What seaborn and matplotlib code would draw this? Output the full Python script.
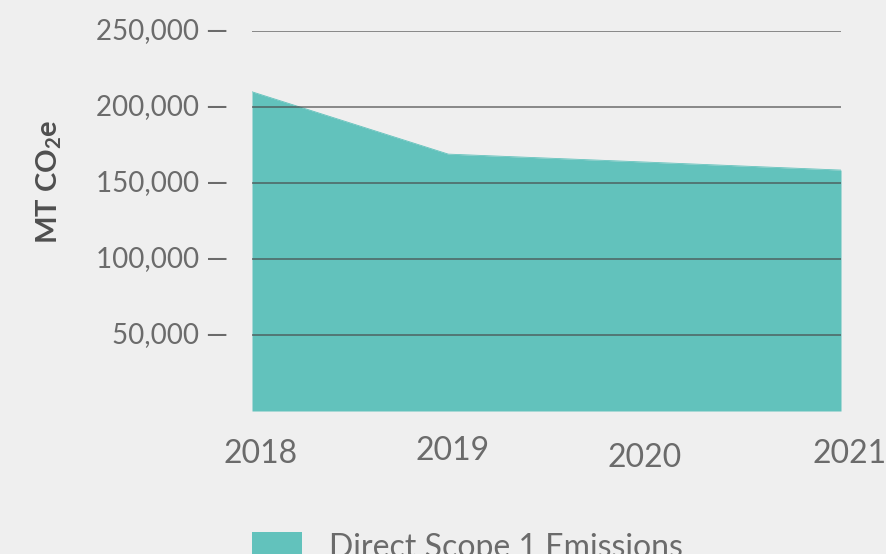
import matplotlib
matplotlib.use("Agg")
import matplotlib.pyplot as plt
import matplotlib.transforms as mtransforms
import seaborn as sns
import pandas as pd

# Data
years = [2018, 2019, 2020, 2021]
emissions = [210000, 169000, 163800, 158500]
y_ticks = [50000, 100000, 150000, 200000, 250000]
series_name = "Direct Scope 1 Emissions"

df = pd.DataFrame({"Year": years, "MT CO2e": emissions})

TEAL = "#62c2bc"
BG = "#efefef"
TICK_GREY = "#6b6b6b"
LABEL_GREY = "#4f4f4f"

sns.set_theme(style="white")
plt.rcParams["font.family"] = ["Lato", "DejaVu Sans"]
plt.rcParams["mathtext.fontset"] = "custom"
plt.rcParams["mathtext.rm"] = "Lato"
plt.rcParams["mathtext.bf"] = "Lato:bold"

fig = plt.figure(figsize=(8.87, 5.54), dpi=100, facecolor=BG)
ax = fig.add_axes([252 / 887, 1 - 411 / 554, (841 - 252) / 887, (411 - 31) / 554])
ax.set_facecolor(BG)

# Area
sns.lineplot(df, x="Year", y="MT CO2e", color=TEAL, linewidth=0.6, ax=ax, legend=False, zorder=2)
ax.fill_between(df["Year"], 0, df["MT CO2e"], color=TEAL, lw=0, label=series_name, zorder=1)

# Gridlines sit on top of the area
for yt in y_ticks:
    ax.axhline(yt, color="#484848", alpha=0.72, lw=1.2, zorder=3)

ax.set_xlim(years[0], years[-1])
ax.set_ylim(0, 250000)
ax.set_yticks(y_ticks)
ax.set_yticklabels([f"{v:,} \u2014" for v in y_ticks], color=TICK_GREY, fontsize=20)
ax.tick_params(axis="y", length=0, pad=17)
for lbl in ax.get_yticklabels():
    lbl.set_transform(lbl.get_transform() + mtransforms.ScaledTranslation(0, 1.5 / 72, fig.dpi_scale_trans))
ax.set_xticks([])
ax.set_xlabel(None)
ax.set_ylabel(None)
sns.despine(ax=ax, left=True, bottom=True)

# Year labels (slightly uneven, as in the original)
nudges = [(6, 0), (3, 2), (0, -3), (6, 0)]
xlab_trans = mtransforms.blended_transform_factory(ax.transData, ax.transAxes)
for yr, (dx, dy) in zip(years, nudges):
    t = mtransforms.offset_copy(xlab_trans, fig=fig, x=dx, y=dy, units="points")
    ax.text(yr, -0.113, str(yr), transform=t, ha="center", va="center",
            color=TICK_GREY, fontsize=23)

fig.text(49 / 887, 1 - 182 / 554, r"MT CO$_\mathbf{2}$e", rotation=90, ha="center", va="center",
         fontsize=21, fontweight="bold", color=LABEL_GREY)

fig.legend(loc="upper left", bbox_to_anchor=(252 / 887, 1 - 532 / 554), frameon=False,
           fontsize=23, labelcolor=TICK_GREY, handlelength=1.56, handleheight=1.0,
           handletextpad=0.85, borderpad=0, borderaxespad=0)

fig.savefig("out.png", dpi=100, facecolor=BG)
